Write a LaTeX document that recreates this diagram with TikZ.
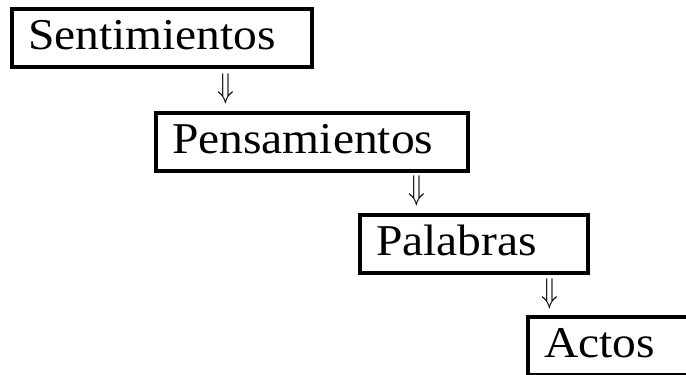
\documentclass[tikz,border=0pt]{standalone}
\usepackage{fontspec}
\setmainfont{Liberation Serif}[FakeStretch=1.08]

\tikzset{
  stage/.style={draw, line width=4pt, outer sep=0pt, anchor=north west,
    minimum height=58pt, inner xsep=0pt, text height=30pt, text depth=8pt,
    font=\fontsize{44}{48}\selectfont},
  flow/.style={inner sep=0pt, font=\Huge}
}
\newcommand{\flowsign}{\scalebox{1.1}[1.38]{$\Downarrow$}}

\begin{document}
\begin{tikzpicture}[x=1pt,y=-1pt]
  \clip (0,0) rectangle (686,375);

  \node[stage, minimum width=300pt, text width=268pt] (sent) at (12,9) {Sentimientos};
  \node[stage, minimum width=312pt, text width=280pt] (pens) at (156,113) {Pensamientos};
  \node[stage, minimum width=228pt, text width=196pt] (pal) at (360,215) {Palabras};
  \node[stage, minimum width=200pt, text width=168pt] (act) at (528,317) {Actos};

  \node[flow] (f1) at (226,88.5) {\flowsign};
  \node[flow] (f2) at (417,191) {\flowsign};
  \node[flow] (f3) at (550,293.5) {\flowsign};
\end{tikzpicture}
\end{document}
